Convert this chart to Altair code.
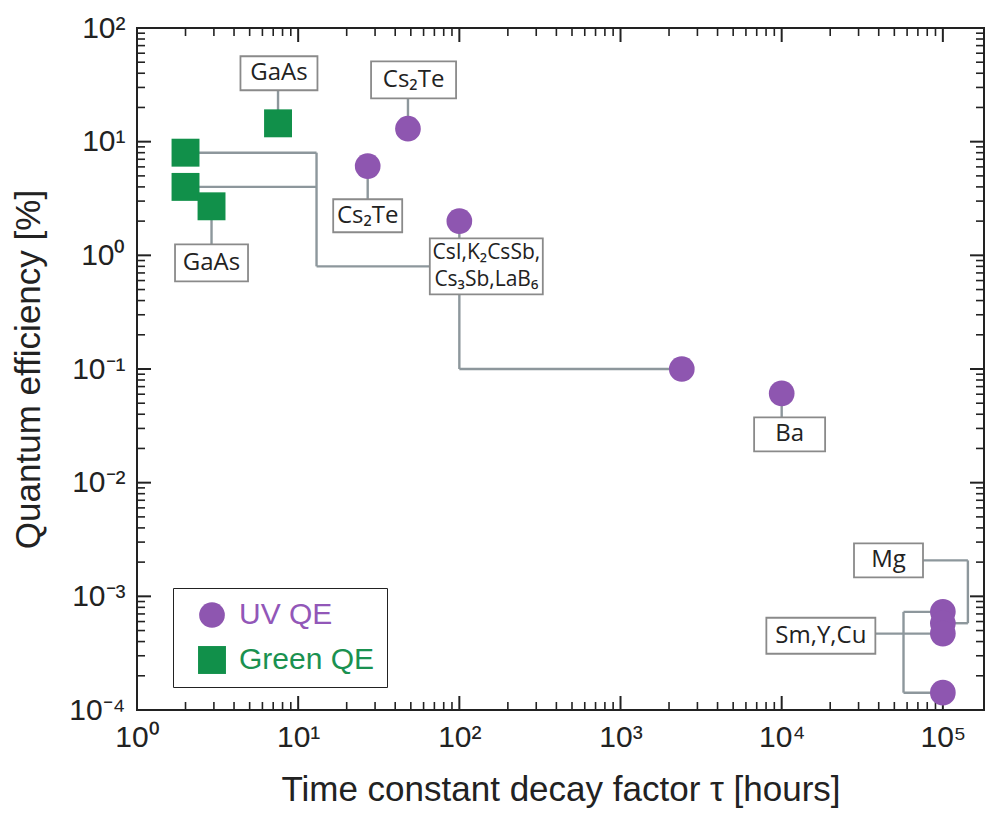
import altair as alt
import pandas as pd

# ---------------- data ----------------
series_names = ["UV QE", "Green QE"]

uv_tau = [48, 27, 100, 2400, 10000, 1.0e5, 1.0e5, 1.0e5, 1.0e5]
uv_qe = [13.0, 6.1, 2.0, 0.1, 0.061, 7.3e-4, 5.8e-4, 4.7e-4, 1.42e-4]

green_tau = [2.0, 2.0, 2.9, 7.5]
green_qe = [8.0, 4.0, 2.7, 14.5]

# annotation labels (anchor in data units)
label_text = ["GaAs", "GaAs", "Cs\u2082Te", "Cs\u2082Te",
              "CsI,K\u2082CsSb,\nCs\u2083Sb,LaB\u2086", "Ba", "Mg", "Sm,Y,Cu"]
label_tau = [7.6, 2.9, 52, 27, 147, 11200, 46000, 17500]
label_qe = [40, 0.86, 35, 2.23, 0.8, 0.0266, 2.07e-3, 4.5e-4]

# connector segments (data units)
seg_tau = [2, 2, 13, 13, 100, 100, 7.5, 2.9, 48, 27, 10000,
           46000, 1.43e5, 1.43e5, 17500, 57000, 57000, 57000]
seg_qe = [8, 4, 8, 0.8, 2, 0.1, 14.5, 2.7, 13, 6.1, 0.061,
          2.07e-3, 2.07e-3, 5.8e-4, 4.7e-4, 7.3e-4, 7.3e-4, 1.42e-4]
seg_tau2 = [13, 13, 13, 147, 100, 2400, 7.5, 2.9, 48, 27, 10000,
            1.43e5, 1.43e5, 1.0e5, 1.0e5, 57000, 1.0e5, 1.0e5]
seg_qe2 = [8, 4, 0.8, 0.8, 0.1, 0.1, 40, 0.86, 35, 2.23, 0.0266,
           2.07e-3, 5.8e-4, 5.8e-4, 4.7e-4, 1.42e-4, 7.3e-4, 1.42e-4]

x_major = [1, 10, 100, 1000, 1e4, 1e5]
y_major = [1e-4, 1e-3, 1e-2, 1e-1, 1, 10, 100]
x_minor = [m * 10 ** k for k in range(0, 6) for m in range(2, 10) if m * 10 ** k <= 1.8e5]
y_minor = [m * 10.0 ** k for k in range(-4, 2) for m in range(2, 10)]

# ---------------- styling ----------------
W, H = 847, 682
box_w = [77, 73, 85, 69, 113, 71, 69, 109]
box_h = [34, 37, 37, 33, 56, 34, 34, 36]
MAJOR, MINOR = 14, 8

PURPLE = "#8e56b0"
GREEN = "#11904a"
LINE = "#8d979c"
INK = "#222222"
FONT = "Liberation Sans"

pts = pd.DataFrame({
    "tau": uv_tau + green_tau,
    "qe": uv_qe + green_qe,
    "series": [series_names[0]] * len(uv_tau) + [series_names[1]] * len(green_tau),
})
labels = pd.DataFrame({"text": label_text, "tau": label_tau, "qe": label_qe})
segs = pd.DataFrame({"tau": seg_tau, "qe": seg_qe, "tau2": seg_tau2, "qe2": seg_qe2})

xscale = alt.Scale(type="log", domain=[1, 1.8e5], nice=False)
yscale = alt.Scale(type="log", domain=[1e-4, 100], nice=False)

sup = "['\u2070','\u00b9','\u00b2','\u00b3','\u2074','\u2075','\u2076']"
label_expr = "'10' + (datum.value < 0.9 ? '\u207b' : '') + " + sup + "[abs(round(log(datum.value)/LN10))]"

# ---------------- inward ticks on all four sides ----------------
tick_layers = []
for vals, length, width in [(x_major, MAJOR, 2), (x_minor, MINOR, 1.6)]:
    df = pd.DataFrame({"v": vals})
    for y0, y1 in [(H, H - length), (0, length)]:
        tick_layers.append(
            alt.Chart(df).mark_rule(color=INK, strokeWidth=width).encode(
                x=alt.X("v:Q", scale=xscale, axis=None),
                y=alt.value(y0), y2=alt.value(y1),
            )
        )
for vals, length, width in [(y_major, MAJOR, 2), (y_minor, MINOR, 1.6)]:
    df = pd.DataFrame({"v": vals})
    for x0, x1 in [(0, length), (W, W - length)]:
        tick_layers.append(
            alt.Chart(df).mark_rule(color=INK, strokeWidth=width).encode(
                y=alt.Y("v:Q", scale=yscale, axis=None),
                x=alt.value(x0), x2=alt.value(x1),
            )
        )

x_main = alt.Axis(orient="bottom", values=x_major, ticks=False, tickSize=0,
                  domain=False, grid=False, labelExpr=label_expr,
                  labelFont=FONT, labelFontSize=30, labelColor=INK,
                  labelPadding=12, labelOverlap=False, labelFlush=False,
                  title="Time constant decay factor \u03c4 [hours]", titleFont=FONT,
                  titleFontSize=35, titleFontWeight="normal", titleColor=INK, titlePadding=20)
y_main = alt.Axis(orient="left", values=y_major, ticks=False, tickSize=0,
                  domain=False, grid=False, labelExpr=label_expr,
                  labelFont=FONT, labelFontSize=30, labelColor=INK,
                  labelPadding=12, labelOverlap=False, labelFlush=False, labelBaseline="middle",
                  title="Quantum efficiency [%]", titleFont=FONT,
                  titleFontSize=35, titleFontWeight="normal", titleColor=INK, titlePadding=22)

rules = alt.Chart(segs).mark_rule(color=LINE, strokeWidth=2.4).encode(
    x=alt.X("tau:Q", scale=xscale, axis=None),
    x2="tau2:Q",
    y=alt.Y("qe:Q", scale=yscale, axis=None),
    y2="qe2:Q",
)

# one white framed box per label (custom rectangular symbol)
box_layers = []
for i, (w, h) in enumerate(zip(box_w, box_h)):
    r = h / w
    path = f"M-1,-{r:.4f}H1V{r:.4f}H-1Z"
    box_layers.append(
        alt.Chart(labels.iloc[[i]]).mark_point(
            shape=path, size=w * w, filled=True, fill="white", stroke="#8a8a8a",
            strokeWidth=1.8, opacity=1, fillOpacity=1, strokeOpacity=1,
        ).encode(
            x=alt.X("tau:Q", scale=xscale, axis=None),
            y=alt.Y("qe:Q", scale=yscale, axis=None),
        )
    )

single = labels[~labels["text"].str.contains("\n")]
multi = labels[labels["text"].str.contains("\n")]

texts = alt.Chart(single).mark_text(font="Open Sans", fontSize=24, color=INK,
                                     align="center", baseline="middle").encode(
    x=alt.X("tau:Q", scale=xscale, axis=None),
    y=alt.Y("qe:Q", scale=yscale, axis=None),
    text="text:N",
)

texts_multi = alt.Chart(multi).mark_text(font="Open Sans", fontSize=21, color=INK,
                                          lineBreak="\n", lineHeight=27, align="center",
                                          baseline="middle", dy=-13.5).encode(
    x=alt.X("tau:Q", scale=xscale, axis=None),
    y=alt.Y("qe:Q", scale=yscale, axis=None),
    text="text:N",
)

points = alt.Chart(pts).mark_point(filled=True, opacity=1, strokeWidth=0).encode(
    x=alt.X("tau:Q", scale=xscale, axis=x_main),
    y=alt.Y("qe:Q", scale=yscale, axis=y_main),
    color=alt.Color("series:N", scale=alt.Scale(domain=series_names, range=[PURPLE, GREEN]),
                    legend=alt.Legend(title=None, orient="none", legendX=36, legendY=560,
                                      direction="vertical", strokeColor=INK, fillColor="white",
                                      padding=12, symbolOffset=12, symbolSize=620,
                                      symbolStrokeWidth=0, labelFont=FONT,
                                      labelFontSize=30, labelOffset=12, rowPadding=15,
                                      labelExpr="datum.label + '\u00a0\u00a0'",
                                      labelColor=alt.ExprRef("datum.label == 'UV QE' ? '#9257b8' : '#1a9150'"))),
    shape=alt.Shape("series:N", scale=alt.Scale(domain=series_names, range=["circle", "square"])),
    size=alt.Size("series:N", scale=alt.Scale(domain=series_names, range=[660, 780]), legend=None),
)

chart = alt.layer(*tick_layers, rules, *box_layers, texts, texts_multi, points).resolve_axis(
    x="independent", y="independent"
).properties(
    width=W, height=H,
    autosize=alt.AutoSizeParams(type="none"),
    padding={"left": 137, "top": 28, "right": 2, "bottom": 106},
    background="white",
).configure_view(stroke=INK, strokeWidth=2)

chart.save("out.html", embed_options={"renderer": "svg", "actions": False})
